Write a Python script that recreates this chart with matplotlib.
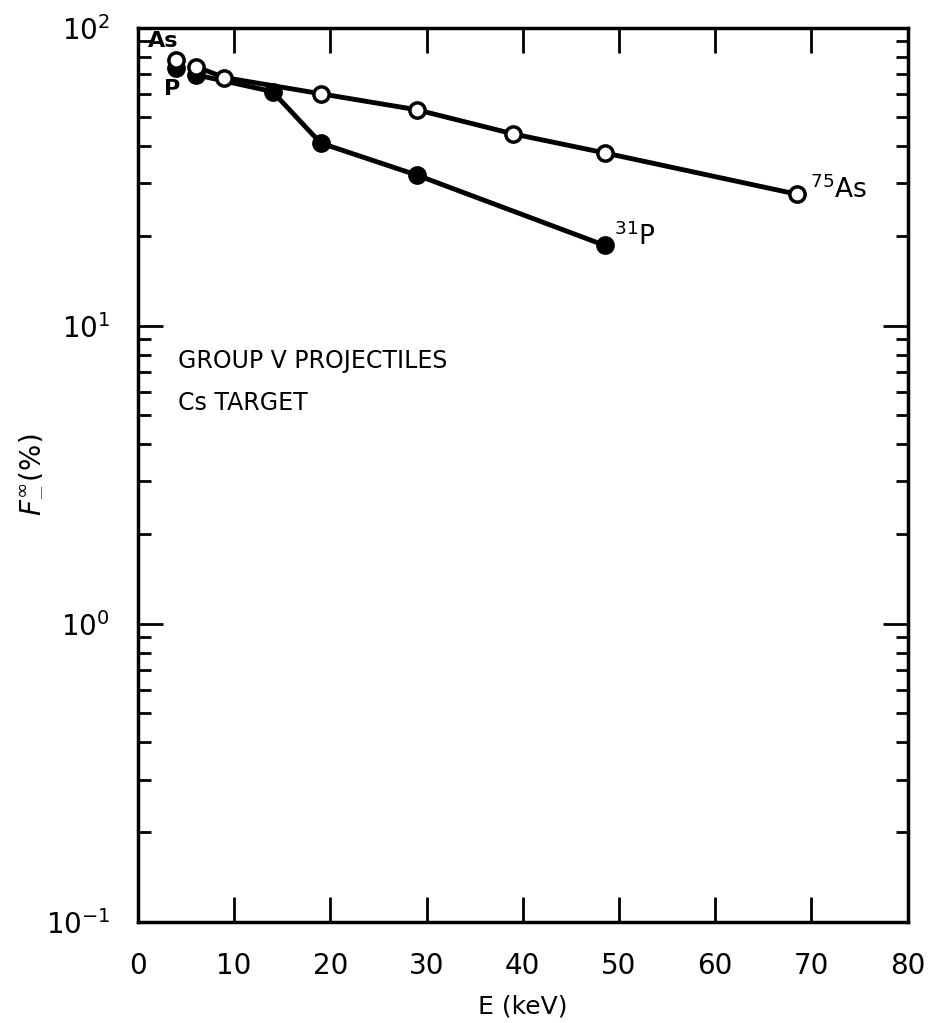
import matplotlib
matplotlib.use('Agg')
import matplotlib.pyplot as plt
from matplotlib.ticker import LogLocator, FixedLocator

# 75As (open circles)
as_E = [4, 6, 9, 19, 29, 39, 48.5, 68.5]
as_F = [78, 74, 68, 60, 53, 44, 38, 27.6]

# 31P (filled circles)
p_E = [4, 6, 14, 19, 29, 48.5]
p_F = [73, 69.5, 61, 41, 32, 18.6]

x_ticks = [0, 10, 20, 30, 40, 50, 60, 70, 80]

plt.rcParams['font.family'] = ['DejaVu Sans']
fig = plt.figure(figsize=(9.31, 10.23), dpi=100)
ax = fig.add_axes([0.148, 0.099, 0.827, 0.874])

ax.plot(as_E[1:], as_F[1:], '-', color='black', lw=3.5, zorder=2)
ax.plot(p_E[1:], p_F[1:], '-', color='black', lw=3.5, zorder=2)
ax.plot(as_E, as_F, 'o', ms=11, mfc='white', mec='black', mew=2.5, zorder=4)
ax.plot(p_E, p_F, 'o', ms=11, mfc='black', mec='black', mew=2.5, zorder=3)

ax.set_yscale('log')
ax.set_xlim(0, 80)
ax.set_ylim(0.1, 100)
ax.xaxis.set_major_locator(FixedLocator(x_ticks))
ax.yaxis.set_major_locator(LogLocator(base=10))
ax.yaxis.set_minor_locator(LogLocator(base=10, subs=range(2, 10)))

ax.tick_params(axis='x', which='major', direction='in', length=18, width=2,
               top=True, labelsize=20, pad=22)
ax.tick_params(axis='y', which='major', direction='in', length=18, width=2,
               right=True, labelsize=20, pad=20)
ax.tick_params(axis='y', which='minor', direction='in', length=9, width=2,
               right=True)
for s in ax.spines.values():
    s.set_linewidth(2.5)

ax.set_xlabel('E (keV)', fontsize=18, labelpad=10)
ax.set_ylabel(r'$F_{-}^{\infty}$(%)', fontsize=20, labelpad=2)

ax.text(1.0, 90, 'As', fontsize=16, fontweight='bold', ha='left', va='center')
ax.text(2.7, 62, 'P', fontsize=16, fontweight='bold', ha='left', va='center')
ax.text(69.8, 28.5, r'$^{75}$As', fontsize=19, ha='left', va='center')
ax.text(49.5, 19.8, r'$^{31}$P', fontsize=19, ha='left', va='center')
ax.text(4.2, 7.6, 'GROUP V PROJECTILES', fontsize=17, ha='left', va='center')
ax.text(4.2, 5.5, 'Cs TARGET', fontsize=17, ha='left', va='center')

fig.savefig('out.png', dpi=100)
